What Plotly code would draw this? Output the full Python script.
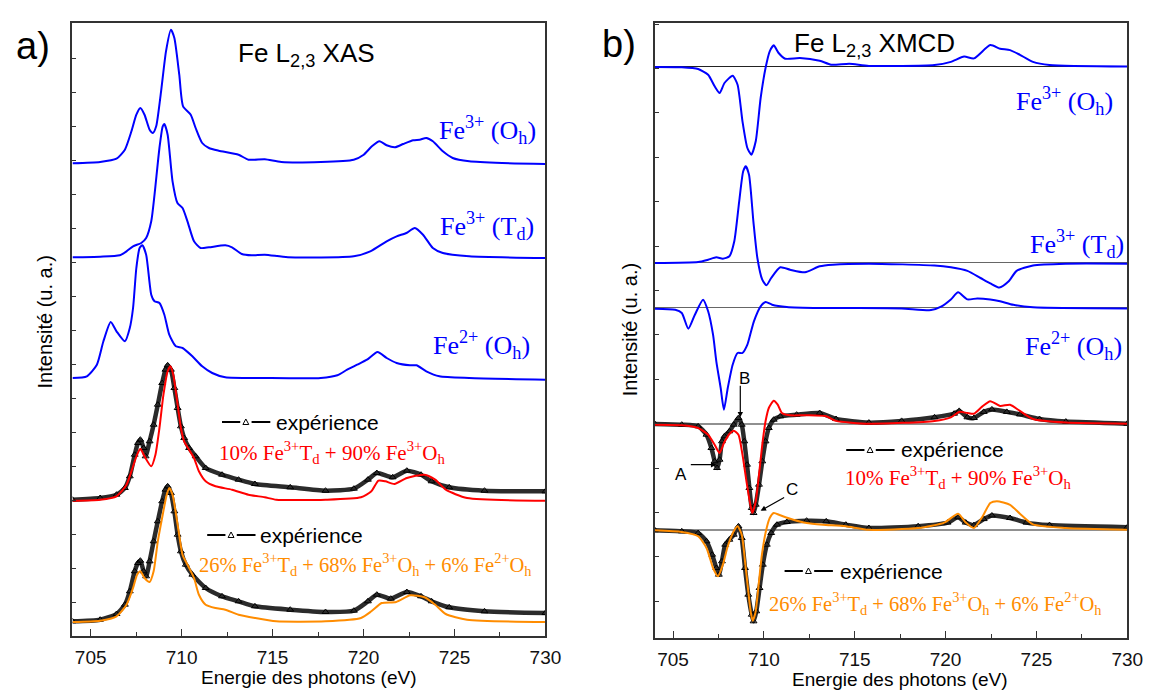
import plotly.graph_objects as go

W, H = 1154, 691

# ---------------- Panel a : XAS (energy in eV, intensity in arbitrary units) ----------------
a_oh3_E = [704.0, 705.52, 706.42, 706.88, 707.24, 707.51, 707.73, 707.96, 708.24, 708.42, 708.6, 708.87, 709.14, 709.41, 709.6, 709.87, 710.08, 710.5, 710.77, 711.13, 711.5, 712.04, 713.13, 713.67, 714.57, 715.48, 717.65, 719.46, 720.01, 720.46, 720.88, 721.27, 721.73, 722.18, 722.73, 723.09, 723.45, 723.81, 724.36, 724.9, 725.81, 727.62, 730.0]
a_oh3_I = [472.7, 474, 477.3, 486.3, 504.7, 521.3, 528, 521.3, 506.3, 503, 509.7, 544.7, 584.7, 606.3, 598, 561.3, 529.7, 521.3, 508, 493, 488, 485.3, 481.3, 476.3, 476.7, 474, 474, 476.3, 481.3, 489.7, 494.7, 490.7, 488.7, 492, 495.7, 496.3, 498, 494.7, 484.7, 478, 474.7, 473, 472]

a_td3_E = [704.0, 705.52, 706.6, 706.97, 707.33, 707.78, 708.05, 708.33, 708.51, 708.78, 708.96, 709.05, 709.23, 709.5, 709.77, 710.05, 710.32, 710.68, 711.04, 711.5, 712.4, 712.77, 713.31, 713.85, 714.57, 715.84, 719.46, 720.37, 721.27, 721.82, 722.36, 722.82, 723.27, 723.81, 724.36, 725.81, 730.0]
a_td3_I = [378.7, 379.3, 380.7, 384.7, 389.7, 393, 398, 414.7, 441.3, 488, 509.7, 512, 501.3, 454.7, 433, 428, 414.7, 394.7, 388, 388.7, 390.7, 388.7, 382, 380.7, 381.3, 378.7, 379.7, 384.7, 394.7, 399.7, 403, 408, 401.3, 388, 383, 379.7, 378]

a_oh2_E = [704.0, 704.79, 705.34, 705.7, 706.1, 706.42, 706.88, 707.15, 707.33, 707.51, 707.69, 707.84, 708.05, 708.33, 708.51, 708.78, 709.05, 709.32, 709.68, 710.05, 710.59, 711.13, 711.68, 712.4, 714.57, 717.65, 718.56, 719.1, 719.65, 720.19, 720.77, 721.27, 721.82, 722.55, 722.91, 723.45, 724.17, 725.81, 730.0]
a_oh2_I = [258, 259.7, 271.3, 294.7, 314, 304.7, 294.7, 308, 328, 368, 388, 390.7, 381.3, 341.3, 334.7, 333, 321.3, 301.3, 289.7, 288, 279.7, 269.7, 263, 258.7, 258, 258, 260.7, 266.3, 271.3, 276.3, 284, 278, 273, 270.7, 270.7, 264.7, 259.7, 258, 256.3]

a_exp1_E = [704.0, 705.52, 706.42, 706.88, 707.15, 707.42, 707.6, 707.73, 707.91, 708.02, 708.24, 708.46, 708.69, 708.93, 709.11, 709.23, 709.41, 709.6, 709.78, 709.96, 710.14, 710.41, 710.77, 711.32, 712.22, 713.13, 714.03, 715.97, 717.91, 719.47, 720.24, 720.73, 721.6, 722.38, 723.16, 723.74, 724.71, 726.65, 730.0]
a_exp1_I = [136.3, 138, 141.3, 148, 159.7, 181.3, 193, 196.3, 188, 179.7, 194.7, 211.3, 231.3, 253, 266.3, 270.7, 266.3, 248, 228, 209.7, 198, 188, 179.7, 168, 161.3, 156.3, 152, 148.7, 145.3, 147.3, 156.3, 163, 158.7, 165.3, 161.3, 154.7, 148.7, 145.3, 144.7]

a_fit1_E = [704.0, 705.52, 706.42, 706.97, 707.33, 707.55, 707.73, 707.96, 708.33, 708.56, 708.78, 709.0, 709.23, 709.38, 709.54, 709.78, 709.96, 710.14, 710.41, 710.68, 710.95, 711.32, 711.86, 712.77, 713.67, 714.57, 715.2, 717.91, 719.86, 720.43, 720.82, 721.2, 721.7, 722.38, 723.35, 723.94, 724.52, 725.69, 730.0]
a_fit1_I = [135.3, 136.3, 139.7, 151.3, 169.7, 181.3, 187.3, 179.7, 169.7, 181.3, 208, 241.3, 264.7, 269.7, 261.3, 231.3, 208, 194.7, 186.3, 178, 164.7, 154.7, 149.7, 146.3, 141.3, 138.7, 136.3, 136.3, 138.7, 144.7, 155.3, 154.7, 152, 158, 161.3, 156.3, 146.3, 138, 135.3]

a_exp2_E = [704.0, 705.52, 706.42, 706.88, 707.15, 707.42, 707.6, 707.73, 707.91, 708.05, 708.24, 708.46, 708.69, 708.93, 709.11, 709.23, 709.41, 709.6, 709.78, 709.96, 710.23, 710.59, 711.32, 712.22, 713.13, 714.03, 715.97, 717.91, 719.47, 720.24, 720.73, 721.5, 722.38, 723.16, 723.74, 724.71, 726.65, 730.0]
a_exp2_I = [14.7, 16.3, 22, 31.3, 44.7, 64.7, 73, 75.3, 64.7, 59.7, 74.7, 94.7, 114.7, 134.7, 146.3, 149.7, 143, 124.7, 101.3, 84.7, 71.3, 61.3, 48, 39.7, 34.7, 29.7, 26.3, 24, 25.3, 34.7, 41.3, 37.3, 44, 39.7, 34.7, 28.7, 24.7, 23]

a_fit2_E = [704.0, 705.52, 706.42, 706.97, 707.33, 707.55, 707.73, 707.96, 708.24, 708.46, 708.69, 708.96, 709.18, 709.32, 709.5, 709.78, 710.05, 710.32, 710.68, 710.95, 711.32, 711.86, 712.4, 713.13, 714.03, 715.2, 717.91, 719.86, 720.43, 721.0, 721.79, 722.57, 723.35, 723.94, 724.52, 725.69, 730.0]
a_fit2_I = [14, 15.3, 19.7, 31.3, 48, 61.3, 64.7, 58, 54, 64.7, 94.7, 121.3, 141.3, 148, 141.3, 111.3, 81.3, 71.3, 58, 41.3, 31.3, 28, 26.3, 21.3, 18, 14.7, 14.7, 18, 24.7, 33, 34, 40.7, 38.7, 31.3, 22, 16.3, 14]

# ---------------- Panel b : XMCD ----------------
b_oh3_E = [704.0, 705.48, 706.38, 706.93, 707.29, 707.56, 707.83, 708.28, 708.55, 708.82, 709.09, 709.31, 709.55, 709.82, 710.09, 710.32, 710.54, 710.81, 711.17, 711.98, 713.07, 713.7, 714.7, 715.78, 719.39, 720.29, 721.02, 721.56, 722.46, 723.0, 723.55, 724.09, 724.81, 725.72, 730.0]
b_oh3_I = [571, 570.7, 569, 563.3, 551.7, 545, 555, 562.3, 553.3, 516.7, 490, 483.3, 496.7, 540, 570, 586.7, 592.7, 585, 579.3, 580, 577.3, 573.3, 574.3, 572.1, 572.9, 576.1, 581.4, 579.6, 592.9, 589.3, 587.9, 583.2, 576.1, 572.9, 571.4]

b_td3_E = [704.0, 706.38, 706.93, 707.38, 707.74, 708.1, 708.37, 708.64, 708.86, 709.0, 709.18, 709.42, 709.64, 709.91, 710.14, 710.4, 710.9, 711.44, 712.26, 713.07, 713.79, 715.78, 719.39, 720.29, 721.2, 721.92, 722.46, 722.96, 723.46, 723.91, 724.81, 726.62, 730.0]
b_td3_I = [375, 376, 378.3, 380.7, 379.3, 381.7, 396.7, 436.7, 466.7, 471.7, 463.3, 416.7, 380, 358.3, 352.7, 360, 370.7, 368.3, 365.7, 371.7, 373.3, 374.3, 372.5, 370.7, 367.1, 360, 354.6, 350.4, 356.4, 367.1, 372.5, 374.3, 374.3]

b_oh2_E = [704.0, 705.12, 705.48, 705.84, 706.2, 706.65, 706.93, 707.2, 707.38, 707.62, 707.8, 708.01, 708.28, 708.55, 708.82, 709.09, 709.27, 709.45, 709.82, 710.09, 710.45, 711.26, 713.07, 715.0, 717.58, 719.2, 719.75, 720.29, 720.69, 721.2, 721.74, 722.46, 723.0, 723.73, 724.81, 730.0]
b_oh2_I = [329.3, 328.3, 325, 309.3, 323.3, 338.3, 326.7, 303.3, 276.7, 250, 228.3, 250, 273.3, 285, 285, 293.3, 305, 316.7, 331.7, 336, 333.3, 331, 330, 330, 329.6, 327.9, 331.4, 338.6, 345.7, 338.6, 339.6, 338.6, 336.8, 333.2, 330.7, 329.6]

b_exp1_E = [704.0, 705.48, 706.38, 706.84, 707.11, 707.29, 707.42, 707.56, 707.69, 707.83, 708.1, 708.34, 708.6, 708.78, 708.92, 709.07, 709.2, 709.33, 709.43, 709.55, 709.73, 709.91, 710.09, 710.27, 710.54, 710.9, 711.8, 713.07, 713.97, 715.78, 717.58, 719.39, 720.47, 720.75, 721.2, 721.56, 722.1, 722.55, 723.37, 724.09, 725.17, 726.62, 730.0]
b_exp1_I = [214, 213.3, 211.7, 203.3, 190, 176.7, 170, 178.3, 196.7, 201.7, 206.7, 213.3, 220, 213.3, 196.7, 173.3, 150, 130, 125, 133.3, 153.3, 176.7, 196.7, 210, 218.3, 221.7, 223.3, 225, 219, 215.4, 217.1, 220.7, 224.3, 227.1, 220.7, 220, 226.1, 228.6, 226.1, 223.6, 219, 216.4, 214.3]

b_fit1_E = [704.0, 705.48, 706.38, 706.93, 707.29, 707.56, 707.8, 708.1, 708.34, 708.6, 708.82, 709.04, 709.22, 709.36, 709.55, 709.73, 709.91, 710.09, 710.27, 710.54, 710.76, 710.99, 711.44, 712.35, 713.43, 713.97, 715.78, 719.39, 720.29, 720.75, 721.2, 721.56, 722.01, 722.46, 723.0, 723.55, 724.09, 724.81, 726.62, 730.0]
b_fit1_I = [213.3, 212.7, 210, 203.3, 193.3, 185, 195, 204, 207.3, 203.3, 183.3, 156.7, 136.7, 125, 136.7, 163.3, 193.3, 216.7, 230, 237.3, 233.3, 225, 222.7, 222.7, 221.7, 217.1, 214.3, 217.1, 220.7, 226.1, 225, 224.3, 231.4, 236.8, 232.1, 233.2, 227.1, 219, 215.4, 214.3]

b_exp2_E = [704.0, 705.48, 706.38, 706.84, 707.15, 707.38, 707.52, 707.69, 707.87, 708.1, 708.34, 708.6, 708.78, 708.96, 709.14, 709.33, 709.43, 709.58, 709.76, 709.94, 710.16, 710.4, 710.72, 711.26, 712.35, 713.43, 714.51, 715.78, 718.49, 720.11, 720.69, 721.11, 721.56, 722.1, 722.55, 723.55, 724.45, 725.72, 730.0]
b_exp2_I = [107.7, 106.7, 105, 96.7, 83.3, 70, 63.3, 76.7, 93.3, 98.3, 103.3, 111.7, 100, 70, 43.3, 23.3, 16.7, 26.7, 50, 73.3, 93.3, 105, 113.3, 116, 117.3, 116.7, 113.3, 110, 111.8, 115.4, 120.7, 115.4, 112.9, 118.9, 122.5, 120, 115.4, 112.9, 110.7]

b_fit2_E = [704.0, 705.48, 706.38, 706.84, 707.2, 707.47, 707.74, 708.01, 708.34, 708.55, 708.78, 708.96, 709.14, 709.27, 709.38, 709.53, 709.71, 709.89, 710.11, 710.32, 710.54, 710.9, 711.62, 712.35, 713.25, 714.51, 715.78, 718.49, 719.93, 720.69, 721.11, 721.56, 722.01, 722.46, 722.82, 723.55, 724.09, 724.81, 726.62, 730.0]
b_fit2_I = [107.7, 106, 101.7, 90, 70, 61.7, 73.3, 91.7, 106.7, 111.7, 103.3, 76.7, 46.7, 26.7, 17.3, 25, 53.3, 83.3, 106.7, 120, 125, 122.7, 118.3, 115, 113.3, 111.7, 108.2, 110, 115.4, 124.3, 115.4, 110, 120.7, 135, 136.8, 133.2, 124.3, 113.6, 110, 108.2]

# zero levels of the XMCD spectra (Fe3+Oh, Fe3+Td, Fe2+Oh, fit 1, fit 2)
b_zero_levels = [571.5, 375.5, 330.5, 214, 108]
b_zero_colors = ['#222222', '#666666', '#666666', '#222222', '#222222']

# x-axis range (eV)
x_range = [704, 730]

# ---------------- styling ----------------
SANS = "Liberation Sans, Arial, sans-serif"
SERIF = "Liberation Serif, Times New Roman, serif"
BLUE, RED, ORANGE = "#0000FF", "#FF0000", "#FF8C00"


def px(x):
    return x / W


def py(y):
    return 1 - y / H


fig = go.Figure()


def add_line(E, I, color, xa, ya, width=2.0):
    fig.add_trace(go.Scatter(x=E, y=I, mode="lines", xaxis=xa, yaxis=ya,
                             line=dict(color=color, width=width, shape="spline", smoothing=0.6),
                             showlegend=False, hoverinfo="skip"))


def add_exp(E, I, xa, ya):
    fig.add_trace(go.Scatter(x=E, y=I, mode="lines", xaxis=xa, yaxis=ya,
                             line=dict(color="#2b2b2b", width=4.5, shape="spline", smoothing=0.6),
                             showlegend=False, hoverinfo="skip"))
    fig.add_trace(go.Scatter(x=E, y=I, mode="markers", xaxis=xa, yaxis=ya,
                             marker=dict(symbol="triangle-up-open", size=6, color="black",
                                         line=dict(width=1, color="black")),
                             showlegend=False, hoverinfo="skip"))


# panel a
add_line(a_oh3_E, a_oh3_I, BLUE, "x", "y")
add_line(a_td3_E, a_td3_I, BLUE, "x", "y")
add_line(a_oh2_E, a_oh2_I, BLUE, "x", "y")
add_exp(a_exp1_E, a_exp1_I, "x", "y")
add_line(a_fit1_E, a_fit1_I, RED, "x", "y")
add_exp(a_exp2_E, a_exp2_I, "x", "y")
add_line(a_fit2_E, a_fit2_I, ORANGE, "x", "y")

# panel b
shapes = []
for lvl, col in zip(b_zero_levels, b_zero_colors):
    shapes.append(dict(type="line", xref="x2 domain", yref="y2", x0=0, x1=1, y0=lvl, y1=lvl,
                       line=dict(color=col, width=1.2), layer="below"))
add_line(b_oh3_E, b_oh3_I, BLUE, "x2", "y2")
add_line(b_td3_E, b_td3_I, BLUE, "x2", "y2")
add_line(b_oh2_E, b_oh2_I, BLUE, "x2", "y2")
add_exp(b_exp1_E, b_exp1_I, "x2", "y2")
add_line(b_fit1_E, b_fit1_I, RED, "x2", "y2")
add_exp(b_exp2_E, b_exp2_I, "x2", "y2")
add_line(b_fit2_E, b_fit2_I, ORANGE, "x2", "y2")

# legend-like "—△— expérience" symbols
for x0, y0 in [(217, 414), (202, 527), (850, 442), (787.5, 563)]:
    shapes.append(dict(type="line", xref="paper", yref="paper", x0=px(x0), x1=px(x0 + 18.5),
                       y0=py(y0), y1=py(y0), line=dict(color="black", width=2)))
    shapes.append(dict(type="line", xref="paper", yref="paper", x0=px(x0 + 30), x1=px(x0 + 49),
                       y0=py(y0), y1=py(y0), line=dict(color="black", width=2)))
    cx = x0 + 24.2
    path = "M {:.5f},{:.5f} L {:.5f},{:.5f} L {:.5f},{:.5f} Z".format(
        px(cx - 3), py(y0 + 2.5), px(cx + 3), py(y0 + 2.5), px(cx), py(y0 - 3))
    shapes.append(dict(type="path", xref="paper", yref="paper", path=path,
                       line=dict(color="black", width=1), fillcolor="white"))

annotations = []


def txt(text, x, y, size, family=SANS, color="black", xanchor="left", angle=0):
    annotations.append(dict(text=text, x=px(x), y=py(y), xref="paper", yref="paper",
                            xanchor=xanchor, yanchor="middle", showarrow=False, textangle=angle,
                            borderpad=0, font=dict(family=family, size=size, color=color)))


# panel a texts
txt("a)", 7, 38, 38)
txt("Fe L<sub>2,3</sub> XAS", 232, 47, 26)
txt("Fe<sup>3+</sup> (O<sub>h</sub>)", 436, 122, 26, SERIF, BLUE)
txt("Fe<sup>3+</sup> (T<sub>d</sub>)", 437, 218, 26, SERIF, BLUE)
txt("Fe<sup>2+</sup> (O<sub>h</sub>)", 430, 337, 26, SERIF, BLUE)
txt("expérience", 271, 414, 21)
txt("10% Fe<sup>3+</sup>T<sub>d</sub> + 90% Fe<sup>3+</sup>O<sub>h</sub>", 213, 444, 21, SERIF, RED)
txt("expérience", 255, 527, 21)
txt("26% Fe<sup>3+</sup>T<sub>d</sub> + 68% Fe<sup>3+</sup>O<sub>h</sub> + 6% Fe<sup>2+</sup>O<sub>h</sub>", 193, 556, 20.5, SERIF, ORANGE)
txt("Intensité (u. a.)", 38, 314, 20, xanchor="center", angle=-90)
txt("Energie des photons (eV)", 305, 669, 19, xanchor="center")

# panel b texts
txt("b)", 601, 36, 38)
txt("Fe L<sub>2,3</sub> XMCD", 796, 36, 26)
txt("Fe<sup>3+</sup> (O<sub>h</sub>)", 1021, 93, 26, SERIF, BLUE)
txt("Fe<sup>3+</sup> (T<sub>d</sub>)", 1035, 236, 26, SERIF, BLUE)
txt("Fe<sup>2+</sup> (O<sub>h</sub>)", 1030, 338, 26, SERIF, BLUE)
txt("expérience", 905, 442, 21)
txt("10% Fe<sup>3+</sup>T<sub>d</sub> + 90% Fe<sup>3+</sup>O<sub>h</sub>", 848, 469, 21, SERIF, RED)
txt("expérience", 843, 563, 21)
txt("26% Fe<sup>3+</sup>T<sub>d</sub> + 68% Fe<sup>3+</sup>O<sub>h</sub> + 6% Fe<sup>2+</sup>O<sub>h</sub>", 771, 595, 20.5, SERIF, ORANGE)
txt("Intensité (u. a.)", 631, 322, 20, xanchor="center", angle=-90)
txt("Energie des photons (eV)", 904, 671, 19, xanchor="center")
txt("A", 682.7, 466.7, 17, xanchor="center")
txt("B", 747.3, 370, 17, xanchor="center")
txt("C", 795, 481.7, 17, xanchor="center")

# arrows pointing at features A, B, C
for (xe, ye, ax, ay) in [(707.38, 173.3, -27, 0), (708.7, 220.7, 0, -33), (709.82, 127.3, 25, -14)]:
    annotations.append(dict(text="", x=xe, y=ye, xref="x2", yref="y2", ax=ax, ay=ay,
                            showarrow=True, arrowhead=2, arrowsize=0.9, arrowwidth=1.2,
                            arrowcolor="black", standoff=0))

axis_common = dict(showline=True, mirror=True, linecolor="#333333", linewidth=1.5,
                   showgrid=False, zeroline=False)
xaxis_common = dict(axis_common, range=x_range, ticks="inside", ticklen=7, tickwidth=1.2,
                    tickcolor="#333333", tick0=705, dtick=5,
                    minor=dict(ticks="inside", ticklen=4, tick0=705, dtick=2.5, tickcolor="#333333"),
                    tickfont=dict(family=SANS, size=19, color="#111111"), ticklabelstandoff=3)
yaxis_common = dict(axis_common, ticks="inside", ticklen=4, tickwidth=1, tickcolor="#333333",
                    showticklabels=False)

fig.update_layout(
    width=W, height=H,
    margin=dict(l=0, r=0, t=0, b=0),
    paper_bgcolor="white", plot_bgcolor="white",
    xaxis=dict(xaxis_common, domain=[65.4 / W, 545 / W], anchor="y"),
    yaxis=dict(yaxis_common, domain=[1 - 628 / H, 1 - 15 / H], range=[0, 613], tick0=0, dtick=34, anchor="x"),
    xaxis2=dict(xaxis_common, domain=[656 / W, 1135 / W], anchor="y2"),
    yaxis2=dict(yaxis_common, domain=[1 - 630 / H, 1 - 15 / H], range=[0, 615], tick0=36.7, dtick=44.4, anchor="x2"),
    shapes=shapes,
    annotations=annotations,
    showlegend=False,
)

fig.write_html("out.html")
